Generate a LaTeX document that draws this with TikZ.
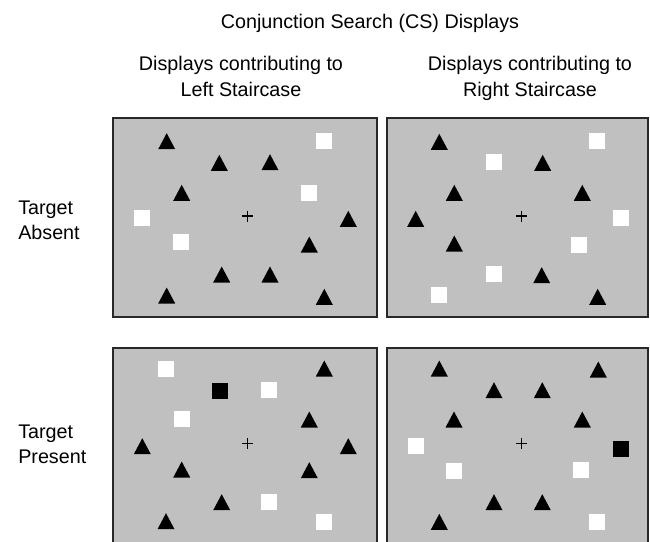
\documentclass[tikz,border=0pt]{standalone}
\usepackage{fontspec}
\setmainfont{Liberation Sans}
\definecolor{panelgray}{RGB}{192,192,192}
\definecolor{framegray}{RGB}{40,40,40}
\begin{document}
\begin{tikzpicture}[x=0.75pt,y=-0.75pt,
  panel/.style={fill=panelgray,draw=framegray,line width=1.5pt},
  lbl/.style={inner sep=0pt,anchor=base,font=\fontsize{14.8}{18}\selectfont},
  lbll/.style={lbl,anchor=base west},
  tri/.pic={\fill[black] (-8.5,7.5)--(8.5,7.5)--(0,-8.5)--cycle;},
  wsq/.pic={\fill[white] (-8,-8) rectangle (8,8);},
  bsq/.pic={\fill[black] (-8,-8) rectangle (8,8);},
  fix/.pic={\draw[black,line width=0.8pt] (-5.5,0)--(5.5,0) (0,-5.5)--(0,5.5);}
]
\useasboundingbox (0,0) rectangle (650,542);
\clip (0,0) rectangle (650,542);
\fill[white] (0,0) rectangle (650,542);

% labels
\node[lbl] (title) at (370,29) {Conjunction Search (CS) Displays};
\node[lbl] (subL1) at (241,71) {Displays contributing to};
\node[lbl] (subL2) at (241,97) {Left Staircase};
\node[lbl] (subR1) at (530,71) {Displays contributing to};
\node[lbl] (subR2) at (530,97) {Right Staircase};
\node[lbll] (absA) at (18,214) {Target};
\node[lbll] (absB) at (18,239) {Absent};
\node[lbll] (preA) at (18,438) {Target};
\node[lbll] (preB) at (18,463) {Present};

% panels
\draw[panel] (112.5,118.5) rectangle (376.5,317);
\draw[panel] (386.5,118.5) rectangle (647.5,317);
\draw[panel] (112.5,347.5) rectangle (376.5,560);
\draw[panel] (386.5,347.5) rectangle (647.5,560);

% panel 1: left, target absent
\foreach \p in {(166.7,141.7),(219.3,163.3),(270,162.7),(181.7,193.3),(348.3,219.3),(309.3,245),(221.7,275),(270,275),(166.7,296),(324.3,297.3)}
  \pic at \p {tri};
\foreach \p in {(324,141),(309,192.7),(141.7,218.3),(180.7,242.3)}
  \pic at \p {wsq};
\pic at (247.7,216) {fix};

% panel 2: right, target absent
\foreach \p in {(439.3,142.3),(542.7,163.3),(454.3,193.3),(582.3,193.3),(415.7,219.3),(454.3,244),(541.7,275.7),(597.7,297.3)}
  \pic at \p {tri};
\foreach \p in {(597.3,141),(494,162.3),(620.7,217.7),(579,245),(494,274.3),(439.3,295)}
  \pic at \p {wsq};
\pic at (521.7,216) {fix};

% panel 3: left, target present
\foreach \p in {(324.3,369),(309.3,420),(142.3,446.7),(348.3,446.7),(181.7,470),(309.3,470.7),(221.7,502.7),(166,521.7)}
  \pic at \p {tri};
\foreach \p in {(166,369),(269.3,390),(181.7,419.3),(269.3,501.7),(324.3,522.3)}
  \pic at \p {wsq};
\pic at (220.3,391) {bsq};
\pic at (247.7,443.3) {fix};

% panel 4: right, target present
\foreach \p in {(439.3,369),(598.3,370),(494,390.7),(542.3,390.7),(454,420),(582.3,420),(494,502.7),(542.3,502.7),(439.3,522.3)}
  \pic at \p {tri};
\foreach \p in {(415.7,445.7),(454.3,471),(581,470),(596.7,522.3)}
  \pic at \p {wsq};
\pic at (620.7,449) {bsq};
\pic at (521.7,443.3) {fix};
\end{tikzpicture}
\end{document}
